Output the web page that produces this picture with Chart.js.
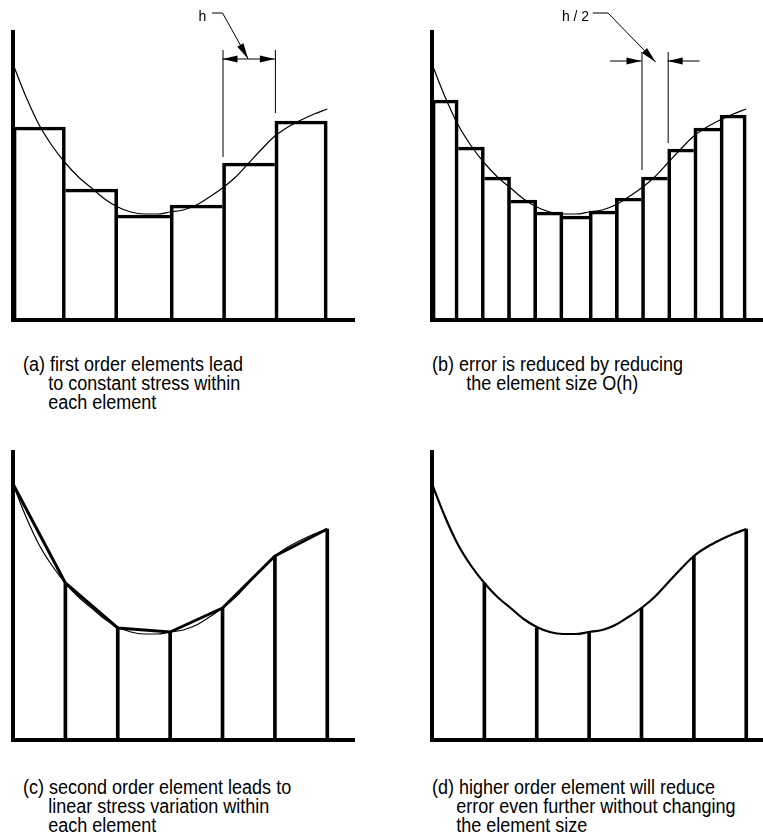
<!DOCTYPE html>
<html><head><meta charset="utf-8">
<script src="https://cdn.jsdelivr.net/npm/chart.js@4.4.1/dist/chart.umd.min.js"></script>
<style>
html,body{margin:0;padding:0;background:#fff;}
body{width:763px;height:835px;position:relative;overflow:hidden;font-family:"Liberation Sans",Arial,sans-serif;}
canvas{position:absolute;}
.cap{position:absolute;font-size:20px;line-height:19px;color:#000;white-space:nowrap;transform:scaleX(0.9);transform-origin:0 0;}
.cap div{white-space:nowrap;}
</style></head><body>
<canvas id="ca" width="380" height="335" style="left:0;top:0"></canvas>
<canvas id="cb" width="383" height="335" style="left:380px;top:0"></canvas>
<canvas id="cc" width="380" height="335" style="left:0;top:420px"></canvas>
<canvas id="cd" width="383" height="335" style="left:380px;top:420px"></canvas>
<div class="cap" id="tA" style="left:23px;top:355px"></div>
<div class="cap" id="tB" style="left:432px;top:355px"></div>
<div class="cap" id="tC" style="left:23px;top:778px"></div>
<div class="cap" id="tD" style="left:432px;top:778px"></div>
<script>
// ---------- data (heights above the x-axis) ----------
const curveX = [0,0.25,0.5,0.75,1,1.25,1.5,1.75,2,2.25,2.5,2.75,3,3.25,3.5,3.75,4,4.25,4.5,4.75,5,5.25,5.5,5.75,6];
const curveY = [256,223,195,174,157,143,132,121,113,108,106,106,108,110,115,123,132,143,157,171,184,193,200,206,211];
const coarseBarValues = [193,131,105,115,157,199];                       // (a) element size h
const fineBarValues = [220,173,143,120,108,104,109,122,143,171,192,205]; // (b) element size h/2
const nodeX = [0,1,2,3,4,5,6];
const nodeValues = [256,157,112,108,132,184,211];
const captionA = ["(a) first order elements lead","to constant stress within","each element"];
const captionB = ["(b) error is reduced by reducing","the element size  O(h)"];
const captionC = ["(c) second order element leads to","linear stress variation within","each element"];
const captionD = ["(d) higher order element will reduce","error even further without changing","the element size"];
const labelH = "h";
const labelH2 = "h / 2";

// ---------- helpers ----------
const curvePoints = curveX.map((x,i)=>({x, y:curveY[i]}));
const BW = 3;
function barDataset(values, width){
  return {
    type:'bar',
    data: values.map((v,i)=>({x: i*width + width/2, y: v})),
    backgroundColor:'rgba(0,0,0,0)',
    borderColor:'#000',
    borderSkipped:false,
    borderWidth:(ctx)=>{
      const i = ctx.dataIndex, n = values.length, v = values[i];
      const left = (i===0 || values[i-1] <= v) ? BW : 0;
      const right = (i===n-1 || values[i+1] < v) ? BW : 0;
      return {top:BW, left, right, bottom:0};
    },
    barPercentage:1, categoryPercentage:1, order:2
  };
}
function curveDataset(w){
  return {type:'line', data: curvePoints, borderColor:'#000', borderWidth:w, pointRadius:0,
    cubicInterpolationMode:'monotone', fill:false, clip:false, order:0};
}
function nodeLinesDataset(){
  return {type:'bar', data: nodeX.slice(1).map((x,i)=>({x, y:nodeValues[i+1]})),
    backgroundColor:'#000', borderWidth:0, barThickness:3, order:3};
}
function polyDataset(){
  return {type:'line', data: nodeX.map((x,i)=>({x, y:nodeValues[i]})), borderColor:'#000',
    borderWidth:3, pointRadius:0, tension:0, fill:false, clip:false, order:1, borderJoinStyle:'round'};
}

const annoPlugin = {
  id:'dimAnno',
  afterDatasetsDraw(chart, args, opts){
    if(!opts || !opts.on) return;
    const c = chart.ctx, xs = chart.scales.x, ys = chart.scales.y;
    const X = v=>xs.getPixelForValue(v), Y = v=>ys.getPixelForValue(v);
    c.save();
    c.strokeStyle='#000'; c.fillStyle='#000'; c.lineWidth=1;
    function line(x1,y1,x2,y2){ c.beginPath(); c.moveTo(x1,y1); c.lineTo(x2,y2); c.stroke(); }
    function head(fx,fy,tx,ty,L,W){
      const dx=tx-fx, dy=ty-fy, d=Math.hypot(dx,dy), ux=dx/d, uy=dy/d;
      const bx=tx-ux*L, by=ty-uy*L;
      c.beginPath(); c.moveTo(tx,ty); c.lineTo(bx-uy*W, by+ux*W); c.lineTo(bx+uy*W, by-ux*W); c.closePath(); c.fill();
    }
    (opts.ext||[]).forEach(e=>line(X(e[0])+0.5, Y(e[2]), X(e[0])+0.5, Y(e[1])));
    (opts.arrows||[]).forEach(a=>{ const x1=X(a[0]),y1=Y(a[1]),x2=X(a[2]),y2=Y(a[3]); line(x1,y1,x2,y2); head(x1,y1,x2,y2,15,3.5); });
    if(opts.leader){
      const p = opts.leader.map(q=>[X(q[0]),Y(q[1])]);
      c.beginPath(); c.moveTo(p[0][0],p[0][1]); for(let i=1;i<p.length;i++) c.lineTo(p[i][0],p[i][1]); c.stroke();
      const n=p.length; head(p[n-2][0],p[n-2][1],p[n-1][0],p[n-1][1],16,3.5);
    }
    if(opts.label){
      c.font='14px "Liberation Sans", Arial, sans-serif'; c.textBaseline='alphabetic'; c.textAlign='left';
      c.fillText(opts.label.text, X(opts.label.x), Y(opts.label.y));
    }
    c.restore();
  }
};

function makeChart(id, datasets, xmax, pad, anno){
  return new Chart(document.getElementById(id), {
    type:'bar',
    data:{datasets},
    plugins:[annoPlugin],
    options:{
      responsive:false, animation:false, devicePixelRatio:1, events:[],
      layout:{padding:pad},
      plugins:{legend:{display:false}, tooltip:{enabled:false}, title:{display:false}, dimAnno: anno||{on:false}},
      scales:{
        x:{type:'linear', min:0, max:xmax, offset:false, grid:{display:false, drawTicks:false},
           ticks:{display:false}, border:{display:true, color:'#000', width:4},
           afterFit:(s)=>{s.height=0;}},
        y:{type:'linear', min:0, max:288, grid:{display:false, drawTicks:false},
           ticks:{display:false}, border:{display:true, color:'#000', width:4},
           afterFit:(s)=>{s.width=0;}}
      }
    }
  });
}

const padL = {left:13, top:32, right:26, bottom:15};
const padR = {left:52, top:32, right:0, bottom:15};

makeChart('ca', [barDataset(coarseBarValues,1), curveDataset(1.2)], 6.51, padL, {
  on:true,
  ext:[[4,163,270],[5,207,270]],
  arrows:[[4.5,261,4,261],[4.5,261,5,261]],
  leader:[[3.80,307],[4.0,307],[4.49,261]],
  label:{text:labelH, x:3.54, y:299}
});
makeChart('cb', [barDataset(fineBarValues,0.5), curveDataset(1.2)], 6.32, padR, {
  on:true,
  ext:[[4,150,268],[4.5,177,268]],
  arrows:[[3.40,259,4,259],[5.11,259,4.5,259]],
  leader:[[3.07,307],[3.36,307],[4.27,258]],
  label:{text:labelH2, x:2.48, y:299}
});
makeChart('cc', [nodeLinesDataset(), polyDataset(), curveDataset(1.2)], 6.51, padL, null);
makeChart('cd', [nodeLinesDataset(), curveDataset(2.2)], 6.32, padR, null);

function caption(id, lines, indent){
  const el = document.getElementById(id);
  lines.forEach((t,i)=>{ const d=document.createElement('div'); d.textContent=t; if(i>0) d.style.paddingLeft=indent+'px'; el.appendChild(d); });
}
caption('tA', captionA, 28);
caption('tB', captionB, 38);
caption('tC', captionC, 28);
caption('tD', captionD, 27);
</script>
</body></html>
